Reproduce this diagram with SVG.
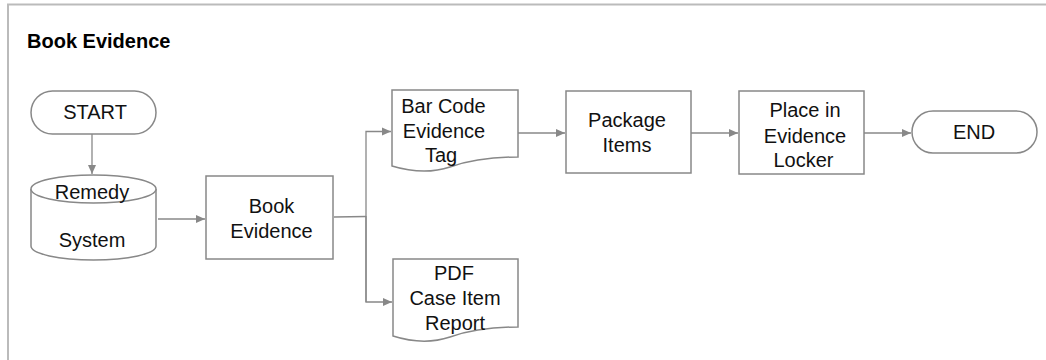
<svg xmlns="http://www.w3.org/2000/svg" width="1046" height="360" viewBox="0 0 1046 360">
<defs>
<style>
.shape{fill:#fff;stroke:#888;stroke-width:1.5}
.conn{fill:none;stroke:#888;stroke-width:1.3}
.lbl{font-family:"Liberation Sans",Arial,sans-serif;font-size:20px;fill:#111;text-anchor:middle}
.title{font-family:"Liberation Sans",Arial,sans-serif;font-size:20px;font-weight:bold;fill:#000}
.frame{fill:none;stroke:#bbb;stroke-width:2}
</style>
<marker id="arr" markerWidth="10" markerHeight="10" refX="9" refY="5" orient="auto" markerUnits="userSpaceOnUse">
<path d="M0,1 L9,5 L0,9 Z" fill="#888"/>
</marker>
</defs>
<rect width="1046" height="360" fill="#fff"/>
<path class="frame" d="M8,360 L8,4.5 L1046,4.5"/>
<text class="title" x="27" y="48">Book Evidence</text>

<g id="connectors">
<path class="conn" d="M92,134 L92,174" marker-end="url(#arr)"/>
<path class="conn" d="M158,219 L205,219" marker-end="url(#arr)"/>
<path class="conn" d="M334,217 L366,216.5"/>
<path class="conn" d="M366,302 L366,131.5 L391,131.5" marker-end="url(#arr)"/>
<path class="conn" d="M366,216 L366,302 L392,302" marker-end="url(#arr)"/>
<path class="conn" d="M518,133 L565,133" marker-end="url(#arr)"/>
<path class="conn" d="M691,133 L738,133" marker-end="url(#arr)"/>
<path class="conn" d="M864,133 L911,133" marker-end="url(#arr)"/>
</g>

<g id="start">
<rect class="shape" x="31" y="91" width="125" height="43" rx="21.5"/>
<text class="lbl" x="95" y="119">START</text>
</g>

<g id="remedy">
<path class="shape" d="M31,189 L31,246 A62.5,14 0 0 0 156,246 L156,189"/>
<ellipse class="shape" cx="93.5" cy="189" rx="62.5" ry="14"/>
<text class="lbl" x="92" y="199">Remedy</text>
<text class="lbl" x="92" y="247">System</text>
</g>

<g id="book">
<rect class="shape" x="206" y="176" width="127" height="83"/>
<text class="lbl" x="271.5" y="213">Book</text>
<text class="lbl" x="271.5" y="238">Evidence</text>
</g>

<g id="barcode">
<path class="shape" d="M392,90 L518,90 L518,157 C490,157 470,160 450,167 C435,172 415,173 392,166 Z"/>
<text class="lbl" x="443.5" y="113">Bar Code</text>
<text class="lbl" x="444" y="138">Evidence</text>
<text class="lbl" x="441" y="162">Tag</text>
</g>

<g id="package">
<rect class="shape" x="566" y="91" width="125" height="82"/>
<text class="lbl" x="627" y="127">Package</text>
<text class="lbl" x="627" y="152">Items</text>
</g>

<g id="place">
<rect class="shape" x="739" y="91" width="125" height="83"/>
<text class="lbl" x="805" y="117">Place in</text>
<text class="lbl" x="805" y="143">Evidence</text>
<text class="lbl" x="803.5" y="167">Locker</text>
</g>

<g id="end">
<rect class="shape" x="912" y="111" width="125" height="42" rx="21"/>
<text class="lbl" x="974" y="139">END</text>
</g>

<g id="pdf">
<path class="shape" d="M393,259 L518,259 L518,327 C490,327 470,330 450,337 C435,342 415,343 393,336 Z"/>
<text class="lbl" x="454" y="280">PDF</text>
<text class="lbl" x="455" y="305">Case Item</text>
<text class="lbl" x="455" y="330">Report</text>
</g>
</svg>
